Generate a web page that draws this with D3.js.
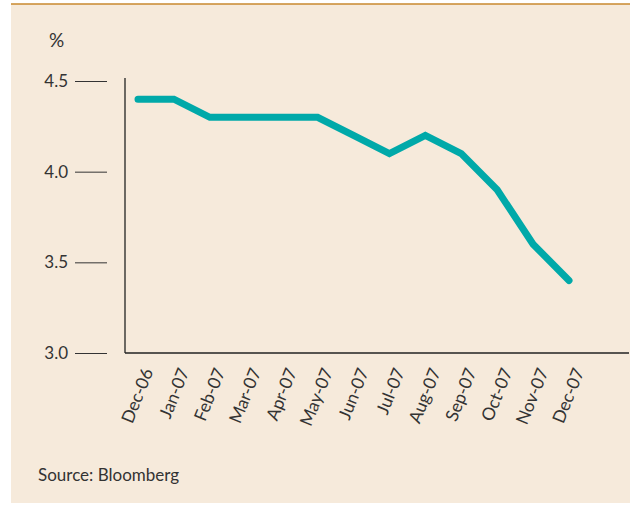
<!DOCTYPE html>
<html>
<head>
<meta charset="utf-8">
<script src="https://cdn.jsdelivr.net/npm/d3@7"></script>
<style>
  body { margin: 0; background: #fff; }
  text { font-family: Lato, 'Open Sans', sans-serif; fill: #333; }
</style>
</head>
<body>
<div id="chart"></div>
<script>
const months = ['Dec-06', 'Jan-07', 'Feb-07', 'Mar-07', 'Apr-07', 'May-07', 'Jun-07',
  'Jul-07', 'Aug-07', 'Sep-07', 'Oct-07', 'Nov-07', 'Dec-07'];
const rates = [4.4, 4.4, 4.3, 4.3, 4.3, 4.3, 4.2, 4.1, 4.2, 4.1, 3.9, 3.6, 3.4];
const yTicks = [3.0, 3.5, 4.0, 4.5];

const width = 630;
const height = 505;

const svg = d3.select('#chart').append('svg')
  .attr('width', width)
  .attr('height', height);

// panel background + top rule
svg.append('rect')
  .attr('x', 11).attr('y', 4)
  .attr('width', width - 11).attr('height', height - 6)
  .attr('fill', '#f6eadb');
svg.append('line')
  .attr('x1', 11).attr('x2', width)
  .attr('y1', 4).attr('y2', 4)
  .attr('stroke', '#c8892e')
  .attr('stroke-width', 1.5);

// scales
const x = d3.scalePoint()
  .domain(months)
  .range([138, 569]);
const y = d3.scaleLinear()
  .domain([3.0, 4.5])
  .range([353, 81]);

// y ticks (detached from the axis line)
const yAxis = svg.append('g')
  .attr('transform', 'translate(107,0)')
  .call(d3.axisLeft(y).tickValues(yTicks).tickFormat(d3.format('.1f')).tickSize(32).tickPadding(7));
yAxis.select('.domain').remove();
yAxis.selectAll('.tick line').attr('stroke', '#333').attr('stroke-width', 1);
yAxis.selectAll('.tick text').style('font-size', '17px').attr('fill', '#333');

svg.append('text')
  .attr('x', 49).attr('y', 47)
  .style('font-size', '19px')
  .text('%');

// axis frame
svg.append('line')
  .attr('x1', 125).attr('x2', 125)
  .attr('y1', 78).attr('y2', 353)
  .attr('stroke', '#222').attr('stroke-width', 1.3);
svg.append('line')
  .attr('x1', 125).attr('x2', 629)
  .attr('y1', 353).attr('y2', 353)
  .attr('stroke', '#222').attr('stroke-width', 1.3);

// x labels, rotated
svg.append('g').selectAll('text')
  .data(months)
  .join('text')
  .attr('transform', d => `translate(${x(d) + 10},${369}) rotate(-68)`)
  .attr('text-anchor', 'end')
  .attr('dy', '0.35em')
  .style('font-size', '17.5px')
  .text(d => d);

// line
const line = d3.line()
  .x((d, i) => x(months[i]))
  .y(d => y(d));

svg.append('path')
  .datum(rates)
  .attr('d', line)
  .attr('fill', 'none')
  .attr('stroke', '#00a9a9')
  .attr('stroke-width', 7)
  .attr('stroke-linecap', 'round')
  .attr('stroke-linejoin', 'miter');

svg.append('text')
  .attr('x', 38).attr('y', 481)
  .style('font-size', '17px')
  .text('Source: Bloomberg');
</script>
</body>
</html>
